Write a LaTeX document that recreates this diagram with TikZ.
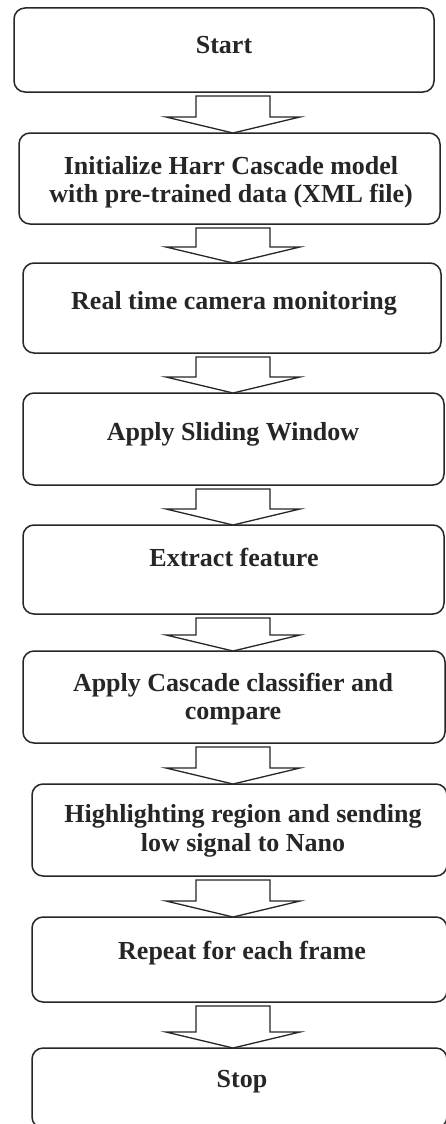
\documentclass[tikz,border=0pt]{standalone}
\usepackage{fontspec}
\setmainfont{Liberation Serif}
\usetikzlibrary{calc}

\tikzset{
  stepbox/.style={draw=black!85, line width=1.5pt, rounded corners=11pt,
    inner sep=0pt, outer sep=0pt},
  steptext/.style={font=\fontsize{26}{28.5}\selectfont\bfseries, align=center,
    text=black!85, inner sep=0pt},
  blockarrow/.style={draw=black!85, line width=1.3pt, fill=white, line join=miter},
}

% hollow block arrow from the bottom of one box to the top of the next
\newcommand\flowarrow[2]{%
  \draw[blockarrow] let \p1=(#1.south -| axis), \p2=(#2.north -| axis) in
    (\x1-37pt,\y1-4pt) -- (\x1+37pt,\y1-4pt) -- (\x1+37pt,\y2+16pt)
    -- (\x1+67pt,\y2+16pt) -- (\x2,\y2) -- (\x1-67pt,\y2+16pt)
    -- (\x1-37pt,\y2+16pt) -- cycle;}

\begin{document}
\begin{tikzpicture}[x=1pt,y=-1pt]
\useasboundingbox (0,0) rectangle (446,1124);
\fill[white] (0,0) rectangle (446,1124);
\coordinate (axis) at (233,0);

% process boxes
\node[stepbox, minimum width=420pt, minimum height=84pt] (b1) at (224,50) {};
\node[stepbox, minimum width=421pt, minimum height=91pt] (b2) at (229.5,178.5) {};
\node[stepbox, minimum width=418pt, minimum height=90pt] (b3) at (232,308) {};
\node[stepbox, minimum width=421pt, minimum height=92pt] (b4) at (233.5,439) {};
\node[stepbox, minimum width=421pt, minimum height=89pt] (b5) at (233.5,569.5) {};
\node[stepbox, minimum width=422pt, minimum height=92pt] (b6) at (234,697) {};
\node[stepbox, minimum width=415pt, minimum height=92pt] (b7) at (239.5,830) {};
\node[stepbox, minimum width=415pt, minimum height=85pt] (b8) at (239.5,959.5) {};
\node[stepbox, minimum width=415pt, minimum height=80pt] (b9) at (239.5,1088) {};

% box labels
\node[steptext] (t1) at (224,45) {Start};
\node[steptext] (t2) at (231,182) {Initialize Harr Cascade model\\with pre-trained data (XML file)};
\node[steptext] (t3) at (234,303) {Real time camera monitoring};
\node[steptext] (t4) at (233,434) {Apply Sliding Window};
\node[steptext] (t5) at (234,557) {Extract feature};
\node[steptext] (t6) at (233,699) {Apply Cascade classifier and\\compare};
\node[steptext] (t7) at (243,831) {Highlighting region and sending\\low signal to Nano};
\node[steptext] (t8) at (242,953) {Repeat for each frame};
\node[steptext] (t9) at (242,1082) {Stop};

% connectors
\flowarrow{b1}{b2}
\flowarrow{b2}{b3}
\flowarrow{b3}{b4}
\flowarrow{b4}{b5}
\flowarrow{b5}{b6}
\flowarrow{b6}{b7}
\flowarrow{b7}{b8}
\flowarrow{b8}{b9}
\end{tikzpicture}
\end{document}
